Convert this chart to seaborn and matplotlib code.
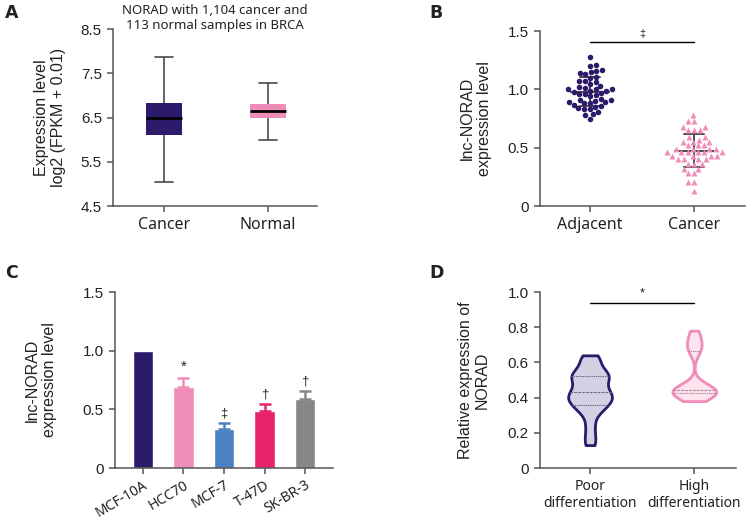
import numpy as np
import pandas as pd
import matplotlib
matplotlib.use("Agg")
import matplotlib.pyplot as plt
import seaborn as sns

# ---------------- data ----------------
# Panel A: box summaries (min, Q1, median, Q3, max)
a_groups = ["Cancer", "Normal"]
a_cancer = [5.05, 6.10, 6.48, 6.82, 7.87]
a_normal = [6.00, 6.48, 6.65, 6.80, 7.28]
a_yticks = [4.5, 5.5, 6.5, 7.5, 8.5]
a_title = "NORAD with 1,104 cancer and\n113 normal samples in BRCA"

# Panel B: individual samples
b_groups = ["Adjacent", "Cancer"]
b_adjacent = [1.28, 1.21, 1.20, 1.17, 1.16, 1.15, 1.14, 1.13, 1.11, 1.10,
              1.07, 1.07, 1.06, 1.05, 1.03, 1.02, 1.01, 1.00, 1.00, 1.00,
              0.99, 0.99, 0.98, 0.97, 0.96, 0.96, 0.95, 0.94, 0.92, 0.91,
              0.91, 0.90, 0.89, 0.89, 0.88, 0.88, 0.87, 0.86, 0.85, 0.84,
              0.83, 0.83, 0.81, 0.79, 0.78, 0.75]
b_cancer = [0.78, 0.73, 0.73, 0.68, 0.68, 0.65, 0.65, 0.65, 0.59, 0.59,
            0.57, 0.55, 0.55, 0.55, 0.52, 0.52, 0.52, 0.49, 0.49, 0.49,
            0.49, 0.46, 0.46, 0.46, 0.46, 0.46, 0.46, 0.43, 0.43, 0.43,
            0.43, 0.40, 0.40, 0.40, 0.40, 0.36, 0.36, 0.36, 0.32, 0.32,
            0.28, 0.28, 0.21, 0.21, 0.13]
b_yticks = [0, 0.5, 1.0, 1.5]
b_yticklabels = ["0", "0.5", "1.0", "1.5"]
b_sig_y = 1.405
b_sig_mark = "‡"

# Panel C: cell lines
c_cells = ["MCF-10A", "HCC70", "MCF-7", "T-47D", "SK-BR-3"]
c_means = [1.00, 0.69, 0.335, 0.49, 0.59]
c_errs = [0.0, 0.08, 0.045, 0.055, 0.07]
c_marks = ["", "*", "‡", "†", "†"]
c_yticks = [0, 0.5, 1.0, 1.5]
c_yticklabels = ["0", "0.5", "1.0", "1.5"]

# Panel D: differentiation
d_groups = ["Poor\ndifferentiation", "High\ndifferentiation"]
d_poor = [0.13, 0.18, 0.24, 0.30, 0.33, 0.35, 0.36, 0.38, 0.39, 0.40,
          0.41, 0.42, 0.44, 0.45, 0.47, 0.49, 0.51, 0.52, 0.53, 0.54,
          0.56, 0.59, 0.62, 0.64]
d_high = [0.38, 0.41, 0.42, 0.42, 0.43, 0.43, 0.44, 0.44, 0.45, 0.45,
          0.47, 0.66, 0.68, 0.71, 0.74, 0.78]
d_yticks = [0, 0.2, 0.4, 0.6, 0.8, 1.0]
d_yticklabels = ["0", "0.2", "0.4", "0.6", "0.8", "1.0"]
d_sig_y = 0.94
d_sig_mark = "*"

# ---------------- style ----------------
navy = "#2c1a6b"
pink = "#f08cb8"
blue = "#4a82c3"
magenta = "#e8216b"
gray = "#878787"
c_colors = [navy, pink, blue, magenta, gray]
spine_c = "#555555"
text_c = "#222222"

sns.set_theme(style="ticks")
plt.rcParams["font.family"] = ["Liberation Sans", "DejaVu Sans"]
plt.rcParams["text.color"] = text_c
plt.rcParams["axes.labelcolor"] = text_c

W, H = 746, 519
fig = plt.figure(figsize=(W / 100, H / 100), dpi=100)


def add_ax(left, top, right, bottom):
    return fig.add_axes([left / W, 1 - bottom / H, (right - left) / W, (bottom - top) / H])


def style(ax, cat_font="Noto Sans", cat_size=11.5, tick_size=11):
    for s in ["top", "right"]:
        ax.spines[s].set_visible(False)
    for s in ["left", "bottom"]:
        ax.spines[s].set_color(spine_c)
        ax.spines[s].set_linewidth(1.1)
    ax.tick_params(axis="both", length=4, width=1.1, color=spine_c,
                   labelcolor=text_c, pad=4)
    ax.tick_params(axis="y", labelsize=tick_size)
    for lab in ax.get_xticklabels():
        lab.set_fontfamily([cat_font, "DejaVu Sans"])
        lab.set_fontsize(cat_size)
    ax.set_xlabel("")


# ---------- Panel A ----------
axA = add_ax(113, 29, 317, 206)
dfA = pd.DataFrame({
    "group": [a_groups[0]] * len(a_cancer) + [a_groups[1]] * len(a_normal),
    "value": a_cancer + a_normal,
})
sns.boxplot(data=dfA, x="group", y="value", hue="group", order=a_groups,
            hue_order=a_groups, palette=[navy, pink], saturation=1,
            whis=(0, 100), width=0.34, showfliers=False, legend=False,
            boxprops=dict(linewidth=0),
            medianprops=dict(color="black", linewidth=2),
            whiskerprops=dict(color="#4a4a4a", linewidth=1.2),
            capprops=dict(color="#4a4a4a", linewidth=1.2), ax=axA)
axA.set_xlim(-0.49, 1.47)
axA.set_ylim(4.5, 8.5)
axA.set_yticks(a_yticks)
axA.set_yticklabels([f"{t:.1f}" for t in a_yticks])
style(axA)
axA.set_ylabel("Expression level\nlog2 (FPKM + 0.01)", fontsize=11.5, linespacing=1.15)
axA.yaxis.set_label_coords(-0.23, 0.5)
fig.text(215 / W, 1 - 18 / H, a_title, ha="center", va="center",
         fontsize=9.5, family=["Noto Sans", "DejaVu Sans"], linespacing=1.25)

# ---------- Panel B ----------
axB = add_ax(540, 31, 745, 206)
sns.swarmplot(x=[b_groups[0]] * len(b_adjacent), y=b_adjacent, order=b_groups,
              color=navy, size=4.0, marker="o", linewidth=0, ax=axB)
sns.swarmplot(x=[b_groups[1]] * len(b_cancer), y=b_cancer, order=b_groups,
              color=pink, size=4.3, marker="^", linewidth=0, ax=axB)
sns.pointplot(x=[b_groups[0]] * len(b_adjacent) + [b_groups[1]] * len(b_cancer),
              y=b_adjacent + b_cancer, order=b_groups, errorbar="sd",
              capsize=0.2, color="#4d4d4d", marker="_", markersize=29,
              markeredgewidth=1.4, linestyle="none",
              err_kws={"linewidth": 1.4}, ax=axB)
axB.plot([0, 1], [b_sig_y, b_sig_y], color="black", lw=1)
axB.text(0.5, b_sig_y + 0.03, b_sig_mark, ha="center", va="bottom", fontsize=8)
axB.set_xlim(-0.48, 1.49)
axB.set_ylim(0, 1.5)
axB.set_yticks(b_yticks)
axB.set_yticklabels(b_yticklabels)
style(axB)
axB.set_ylabel("lnc-NORAD\nexpression level", fontsize=11.5, linespacing=1.15)
axB.yaxis.set_label_coords(-0.234, 0.5)

# ---------- Panel C ----------
axC = add_ax(115, 292, 333, 468)
sns.barplot(x=c_cells, y=c_means, hue=c_cells, palette=c_colors, saturation=1,
            width=0.5, legend=False, ax=axC)
for i, (m, e, col, mk) in enumerate(zip(c_means, c_errs, c_colors, c_marks)):
    if e > 0:
        axC.errorbar(i, m, yerr=[[0], [e]], fmt="none", ecolor=col,
                     elinewidth=1.8, capsize=4, capthick=1.8)
    if mk:
        axC.text(i, m + e + 0.03, mk, ha="center", va="bottom",
                 fontsize=11 if mk == "*" else 9.5)
axC.set_xlim(-0.69, 4.69)
axC.set_ylim(0, 1.5)
axC.set_yticks(c_yticks)
axC.set_yticklabels(c_yticklabels)
style(axC, cat_font="Noto Sans", cat_size=10)
axC.tick_params(axis="x", pad=3)
for lab in axC.get_xticklabels():
    lab.set_rotation(31)
    lab.set_ha("right")
    lab.set_rotation_mode("anchor")
axC.set_ylabel("lnc-NORAD\nexpression level", fontsize=11.5, linespacing=1.15)
axC.yaxis.set_label_coords(-0.266, 0.5)

# ---------- Panel D ----------
axD = add_ax(540, 292, 736, 468)
sns.violinplot(x=[d_groups[0]] * len(d_poor), y=d_poor, order=d_groups,
               color="#d5d1e4", linecolor=navy, linewidth=2, saturation=1,
               cut=0, inner="quart", density_norm="width", width=0.42,
               bw_adjust=0.5, inner_kws={"linewidth": 0.8, "color": "#6a6a8a"},
               ax=axD)
sns.violinplot(x=[d_groups[1]] * len(d_high), y=d_high, order=d_groups,
               color="#fde4ef", linecolor=pink, linewidth=2, saturation=1,
               cut=0, inner="quart", density_norm="width", width=0.42,
               bw_adjust=0.5, inner_kws={"linewidth": 0.8, "color": "#b08898"},
               ax=axD)
axD.plot([0, 1], [d_sig_y, d_sig_y], color="black", lw=1)
axD.text(0.5, d_sig_y + 0.02, d_sig_mark, ha="center", va="bottom", fontsize=9)
axD.set_xlim(-0.48, 1.40)
axD.set_ylim(0, 1.0)
axD.set_yticks(d_yticks)
axD.set_yticklabels(d_yticklabels)
style(axD, cat_size=10)
axD.set_ylabel("Relative expression of\nNORAD", fontsize=11.5, linespacing=1.15)
axD.yaxis.set_label_coords(-0.255, 0.5)

# ---------- panel letters ----------
for (x, y, s) in [(5, 4, "A"), (429, 4, "B"), (5, 264, "C"), (429, 264, "D")]:
    fig.text(x / W, 1 - y / H, s, ha="left", va="top", fontsize=12.5,
             fontweight="bold", family=["DejaVu Sans"])

fig.savefig("out.png", dpi=100)
